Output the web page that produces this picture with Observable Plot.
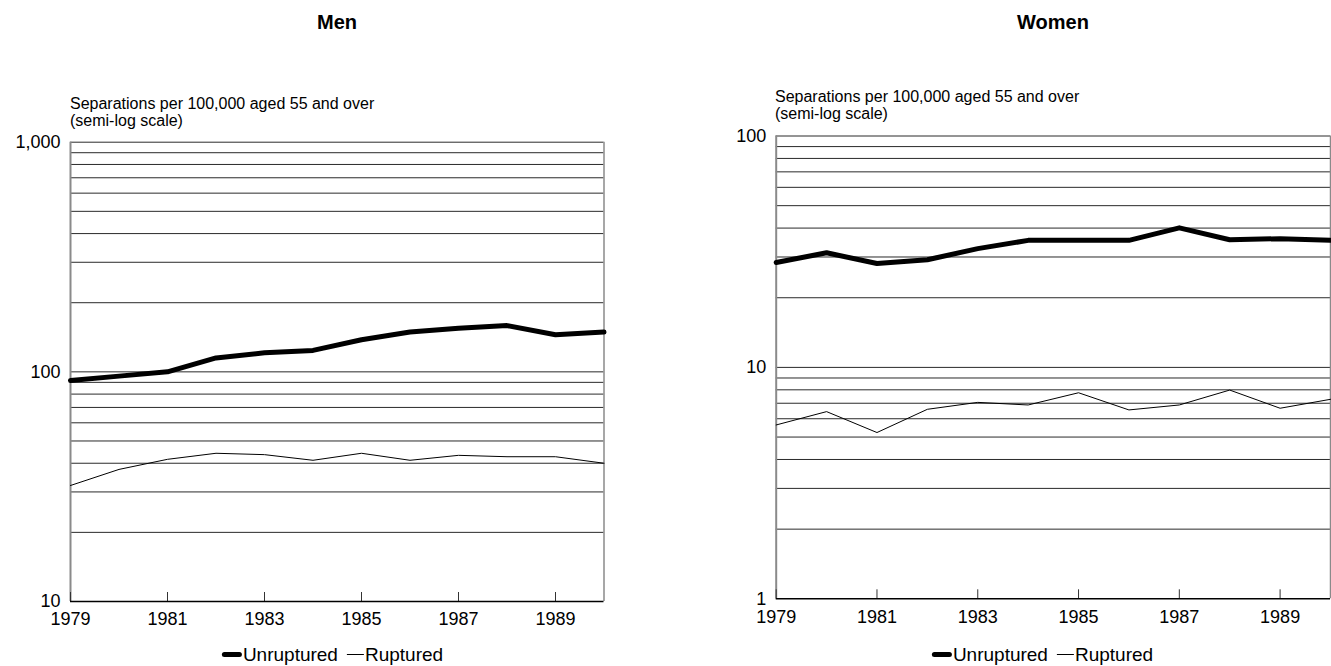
<!DOCTYPE html>
<html>
<head>
<meta charset="utf-8">
<script src="https://cdn.jsdelivr.net/npm/d3@7"></script>
<script src="https://cdn.jsdelivr.net/npm/@observablehq/plot@0.6"></script>
<style>
  html, body { margin: 0; padding: 0; background: #fff; }
  #root { position: relative; width: 1331px; height: 666px; overflow: hidden; font-family: "Liberation Sans", Arial, sans-serif; color: #000; }
  .title { position: absolute; font-weight: bold; font-size: 20px; line-height: 22px; text-align: center; transform: translateX(-50%); white-space: nowrap; }
  .ylab { position: absolute; font-size: 16px; line-height: 17px; white-space: nowrap; }
  .legend { position: absolute; font-size: 19px; line-height: 19px; transform: translateX(-50%); white-space: nowrap; display: flex; align-items: center; }
  .legend .sw { display: inline-block; background: #000; margin-right: 1px; }
  .legend .item { display: flex; align-items: center; margin-right: 9px; }
  .chart { position: absolute; }
</style>
</head>
<body>
<div id="root"></div>
<script>
// ---- data ----
const years = [1979, 1980, 1981, 1982, 1983, 1984, 1985, 1986, 1987, 1988, 1989, 1990];
const tickYears = [1979, 1981, 1983, 1985, 1987, 1989];
const seriesNames = ["Unruptured", "Ruptured"];

const menUnruptured = [91.7, 95.8, 100, 115, 121, 124, 138, 149, 155, 159, 145, 149];
const menRuptured   = [32, 37.6, 41.6, 44.2, 43.6, 41.2, 44.2, 41.2, 43.3, 42.7, 42.7, 40];

const womenUnruptured = [28.4, 31.3, 28.1, 29.2, 32.6, 35.4, 35.4, 35.4, 40.1, 35.6, 36.0, 35.4];
const womenRuptured   = [5.64, 6.44, 5.23, 6.59, 7.06, 6.88, 7.77, 6.55, 6.88, 7.98, 6.66, 7.28];

const menGrid = [20, 30, 40, 50, 60, 70, 80, 90, 100, 200, 300, 400, 500, 600, 700, 800, 900, 1000];
const menDecades = [10, 100, 1000];
const womenGrid = [2, 3, 4, 5, 6, 7, 8, 9, 10, 20, 30, 40, 50, 60, 70, 80, 90, 100];
const womenDecades = [1, 10, 100];

const yAxisLabel = ["Separations per 100,000 aged 55 and over", "(semi-log scale)"];
const FONT = '"Liberation Sans", Arial, sans-serif';

function panel({unr, rup, domain, grid, decades, width, height, ml, mr, mt, mb}) {
  const rows = years.map((yr, i) => ({year: yr, unr: unr[i], rup: rup[i]}));
  const frameH = height - mt - mb;
  return Plot.plot({
    width, height,
    marginLeft: ml, marginRight: mr, marginTop: mt, marginBottom: mb,
    style: {fontFamily: FONT, fontSize: "18px", color: "#000", background: "transparent", overflow: "visible"},
    x: {domain: [1979, 1990], label: null},
    y: {type: "log", domain, label: null},
    marks: [
      Plot.ruleY(grid, {stroke: "#2a2a2a", strokeWidth: 1}),
      Plot.ruleX([1979], {stroke: "#8a8a8a", strokeWidth: 2}),
      Plot.ruleX([1990], {stroke: "#8a8a8a", strokeWidth: 1.5}),
      Plot.ruleX(tickYears, {stroke: "#333", strokeWidth: 1, insetTop: frameH - 9}),
      Plot.ruleY([domain[0]], {stroke: "#000", strokeWidth: 1.5}),
      Plot.line(rows, {x: "year", y: "rup", stroke: "#000", strokeWidth: 1, strokeLinejoin: "round"}),
      Plot.line(rows, {x: "year", y: "unr", stroke: "#000", strokeWidth: 5, strokeLinejoin: "round", strokeLinecap: "round"}),
      Plot.axisX({ticks: tickYears, tickFormat: d => String(d), tickSize: 0, tickPadding: 11, fontSize: 18, anchor: "bottom"}),
      Plot.axisY({ticks: decades, tickFormat: d3.format(","), tickSize: 0, tickPadding: 10, fontSize: 18, anchor: "left"})
    ]
  });
}

const root = document.getElementById("root");

function place(el, left, top) {
  el.classList.add("chart");
  el.style.left = left + "px";
  el.style.top = top + "px";
  root.appendChild(el);
}

function addTitle(text, cx, top) {
  const d = document.createElement("div");
  d.className = "title";
  d.textContent = text;
  d.style.left = cx + "px";
  d.style.top = top + "px";
  root.appendChild(d);
}
function addYLab(left, top) {
  const d = document.createElement("div");
  d.className = "ylab";
  d.innerHTML = yAxisLabel.join("<br>");
  d.style.left = left + "px";
  d.style.top = top + "px";
  root.appendChild(d);
}
function addLegend(cx, top) {
  const d = document.createElement("div");
  d.className = "legend";
  d.style.left = cx + "px";
  d.style.top = top + "px";
  seriesNames.forEach((name, i) => {
    const it = document.createElement("span");
    it.className = "item";
    const sw = document.createElement("span");
    sw.className = "sw";
    sw.style.width = (i === 0 ? 20 : 17) + "px";
    sw.style.height = (i === 0 ? 5 : 1) + "px";
    sw.style.borderRadius = i === 0 ? "3px" : "0";
    const t = document.createElement("span");
    t.textContent = name;
    it.appendChild(sw); it.appendChild(t);
    d.appendChild(it);
  });
  root.appendChild(d);
}

// Men
const men = panel({unr: menUnruptured, rup: menRuptured, domain: [10, 1000], grid: menGrid, decades: menDecades,
  width: 640, height: 560, ml: 70, mr: 36.5, mt: 61.7, mb: 39});
place(men, 0, 80);
addTitle("Men", 337, 11);
addYLab(70, 95);
addLegend(337, 645);

// Women
const women = panel({unr: womenUnruptured, rup: womenRuptured, domain: [1, 100], grid: womenGrid, decades: womenDecades,
  width: 631, height: 560, ml: 75.7, mr: 1, mt: 55.5, mb: 41.7});
place(women, 700, 80);
addTitle("Women", 1053, 11);
addYLab(775, 88);
addLegend(1047, 645);
</script>
</body>
</html>
